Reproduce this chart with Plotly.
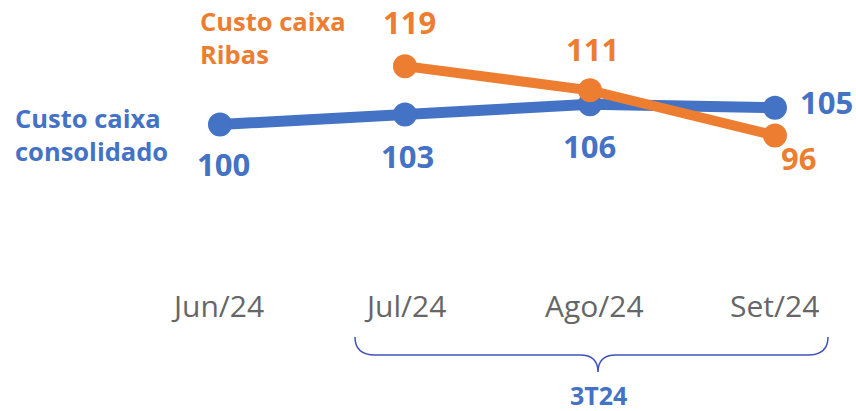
import plotly.graph_objects as go

W, H = 856, 411

months = ["Jun/24", "Jul/24", "Ago/24", "Set/24"]
consolidado = [100, 103, 106, 105]
ribas_months = ["Jul/24", "Ago/24", "Set/24"]
ribas = [119, 111, 96]
quarter_label = "3T24"

BLUE = "#4472C4"
ORANGE = "#ED7D31"
GRAY = "#666666"
BRACE = "#3F51C0"
FONT = "'Open Sans', sans-serif"


def px(x, y):
    return x / W, 1 - y / H


fig = go.Figure()
fig.add_trace(go.Scatter(
    x=months, y=consolidado, mode="lines+markers", yaxis="y",
    line={"color": BLUE, "width": 11}, marker={"color": BLUE, "size": 24},
    hoverinfo="x+y", showlegend=False,
))
fig.add_trace(go.Scatter(
    x=ribas_months, y=ribas, mode="lines+markers", yaxis="y2",
    line={"color": ORANGE, "width": 10}, marker={"color": ORANGE, "size": 24},
    hoverinfo="x+y", showlegend=False,
))

ann = []
# value labels: offsets in px relative to each point
blue_off = [(4, -39), (3, -42), (0, -42), (52, 6)]
for m, v, (dx, dy) in zip(months, consolidado, blue_off):
    ann.append(dict(x=m, y=v, yref="y", text=f"<b>{v}</b>", showarrow=False,
                    xshift=dx, yshift=dy, font={"color": BLUE, "size": 31, "family": FONT}))
orange_off = [(5, 44), (3, 41), (24, -22)]
for m, v, (dx, dy) in zip(ribas_months, ribas, orange_off):
    ann.append(dict(x=m, y=v, yref="y2", text=f"<b>{v}</b>", showarrow=False,
                    xshift=dx, yshift=dy, font={"color": ORANGE, "size": 31, "family": FONT}))

# category labels
for m, xs in zip(months, [-2, 0, 5, 0]):
    ann.append(dict(x=m, y=px(0, 305)[1], yref="paper", yanchor="middle", text=m,
                    showarrow=False, xshift=xs,
                    font={"color": GRAY, "size": 30, "family": FONT}))

# series names
x0, y0 = px(13, 135)
ann.append(dict(x=x0, y=y0, xref="paper", yref="paper", xanchor="left", yanchor="middle",
                text="<b>Custo caixa<br>consolidado</b>", showarrow=False, align="left",
                font={"color": BLUE, "size": 25.5, "family": FONT}))
x0, y0 = px(198, 37)
ann.append(dict(x=x0, y=y0, xref="paper", yref="paper", xanchor="left", yanchor="middle",
                text="<b>Custo caixa<br>Ribas</b>", showarrow=False, align="left",
                font={"color": ORANGE, "size": 25.5, "family": FONT}))

# quarter label
x0, y0 = px(598, 395)
ann.append(dict(x=x0, y=y0, xref="paper", yref="paper", xanchor="center", yanchor="middle",
                text=f"<b>{quarter_label}</b>", showarrow=False,
                font={"color": BLUE, "size": 25, "family": FONT}))

# brace under Jul..Set
pts = {k: px(*v) for k, v in {
    "a": (355, 337), "b": (355, 355), "c": (375, 355), "d": (580, 355), "e": (598, 355),
    "f": (598, 372), "g": (616, 355), "h": (808, 355), "i": (828, 355), "j": (828, 337)}.items()}
P = lambda k: f"{pts[k][0]:.4f},{pts[k][1]:.4f}"
path = (f"M {P('a')} Q {P('b')} {P('c')} L {P('d')} Q {P('e')} {P('f')} "
        f"Q {P('e')} {P('g')} L {P('h')} Q {P('i')} {P('j')}")
fig.add_shape(type="path", xref="paper", yref="paper", path=path,
              line={"color": BRACE, "width": 1.5})

fig.update_layout(
    width=W, height=H, margin={"l": 0, "r": 0, "t": 0, "b": 0},
    paper_bgcolor="white", plot_bgcolor="white",
    xaxis={"type": "category", "categoryarray": months, "range": [-1.189, 3.438],
           "visible": False},
    yaxis={"range": [14.65, 137.09], "visible": False},
    yaxis2={"range": [4.70, 140.93], "visible": False, "overlaying": "y"},
    annotations=ann,
)
fig.write_html("out.html", config={"displayModeBar": False},
               post_script="document.body.style.margin='0px';")
